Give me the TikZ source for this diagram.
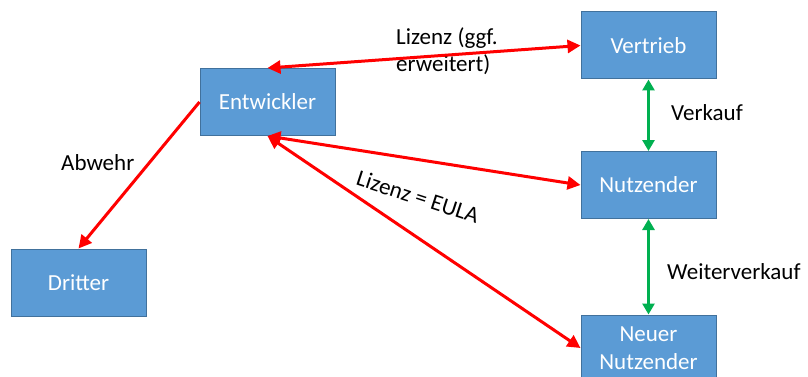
\documentclass[tikz,border=0pt]{standalone}
\usepackage{fontspec}
\setmainfont{Carlito}
\usetikzlibrary{arrows.meta}

\definecolor{boxblue}{HTML}{5B9BD5}
\definecolor{boxline}{HTML}{41719C}
\definecolor{linkred}{HTML}{FF0000}
\definecolor{linkgreen}{HTML}{00B050}

\tikzset{
  party/.style={draw=boxline, fill=boxblue, line width=1pt, text=white,
    minimum width=135pt, minimum height=67pt, align=center,
    font=\fontsize{23}{28}\selectfont, inner sep=0pt},
  lbl/.style={font=\fontsize{23}{27}\selectfont, inner sep=0pt},
  redlink/.style={draw=linkred, line width=3pt},
  greenlink/.style={draw=linkgreen, line width=3pt}
}

\begin{document}
\begin{tikzpicture}[x=1pt, y=-1pt]
      \useasboundingbox (0,0) rectangle (808,377);

      \node[party, name=ent] at (267.5,102) {Entwickler};
      \node[party, name=ver] at (648.5,45.5) {Vertrieb};
      \node[party, name=nut] at (648.5,185) {Nutzender};
      \node[party, name=neu, minimum height=66pt] at (648.5,348) {Neuer\\Nutzender};
      \node[party, name=dri] at (78.5,282.5) {Dritter};

      \node[lbl, name=lizerw, anchor=north west, align=left] at (396,27) {Lizenz (ggf.\\erweitert)};
      \node[lbl, name=verk, anchor=west] at (671,113) {Verkauf};
      \node[lbl, name=abw, anchor=west] at (61,163) {Abwehr};
      \node[lbl, name=weiter, anchor=west] at (667,272) {Weiterverkauf};
      \node[lbl, name=eula, rotate=-18] at (418,197) {Lizenz = EULA};

      % red links
      \draw[redlink, {Triangle[length=13pt,width=13pt]}-{Triangle[length=13pt,width=13pt]}] (ent.north) -- (ver.west);
      \draw[redlink, {Triangle[length=13pt,width=13pt]}-{Triangle[length=13pt,width=13pt]}] (ent.south) -- (nut.west);
      \draw[redlink, {Triangle[length=13pt,width=13pt]}-{Triangle[length=13pt,width=13pt]}] (ent.south) -- (neu.west);
      \draw[redlink, -{Triangle[length=13pt,width=13pt]}] (ent.west) -- (dri.north);

      % green links
      \draw[greenlink, {Triangle[length=11pt,width=12pt]}-{Triangle[length=11pt,width=12pt]}] (ver.south) -- (nut.north);
      \draw[greenlink, {Triangle[length=11pt,width=12pt]}-{Triangle[length=11pt,width=12pt]}] (nut.south) -- (neu.north);
   \end{tikzpicture}
\end{document}
